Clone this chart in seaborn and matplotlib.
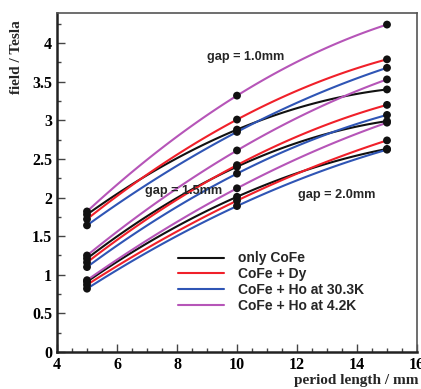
import numpy as np
import pandas as pd
import matplotlib
matplotlib.use("Agg")
import matplotlib.pyplot as plt
import seaborn as sns
from matplotlib.ticker import MultipleLocator, FormatStrFormatter

# period length (mm) and peak field (T)
period = [5, 10, 15]
gaps = ["1.0", "1.5", "2.0"]
materials = ["only CoFe", "CoFe + Dy", "CoFe + Ho at 30.3K", "CoFe + Ho at 4.2K"]

field = {
    ("1.0", "only CoFe"):          [1.78, 2.88, 3.40],
    ("1.0", "CoFe + Dy"):          [1.72, 3.01, 3.79],
    ("1.0", "CoFe + Ho at 30.3K"): [1.64, 2.85, 3.68],
    ("1.0", "CoFe + Ho at 4.2K"):  [1.82, 3.32, 4.24],
    ("1.5", "only CoFe"):          [1.21, 2.40, 2.99],
    ("1.5", "CoFe + Dy"):          [1.16, 2.42, 3.20],
    ("1.5", "CoFe + Ho at 30.3K"): [1.10, 2.31, 3.07],
    ("1.5", "CoFe + Ho at 4.2K"):  [1.25, 2.61, 3.53],
    ("2.0", "only CoFe"):          [0.91, 2.01, 2.63],
    ("2.0", "CoFe + Dy"):          [0.87, 1.96, 2.74],
    ("2.0", "CoFe + Ho at 30.3K"): [0.82, 1.89, 2.62],
    ("2.0", "CoFe + Ho at 4.2K"):  [0.93, 2.12, 2.97],
}

colors = {
    "only CoFe": "#111111",
    "CoFe + Dy": "#f0202a",
    "CoFe + Ho at 30.3K": "#2f55b5",
    "CoFe + Ho at 4.2K": "#b655b8",
}

rows = []
for (gap, mat), vals in field.items():
    for p, v in zip(period, vals):
        rows.append({"gap": gap, "material": mat, "period": p, "field": v})
df = pd.DataFrame(rows)

sns.set_style("ticks")
plt.rcParams["font.family"] = ["Liberation Serif", "DejaVu Serif"]

fig = plt.figure(figsize=(4.21, 3.89), dpi=100)
ax = fig.add_axes([57 / 421, 1 - 352 / 389, 360 / 421, 339 / 389])

for gap in gaps:
    for mat in materials:
        sub = df[(df.gap == gap) & (df.material == mat)]
        sns.regplot(data=sub, x="period", y="field", order=2, ci=None, scatter=False,
                    color=colors[mat], ax=ax, line_kws={"lw": 1.5},
                    label=mat if gap == "1.0" else "_nolegend_")

sns.scatterplot(data=df, x="period", y="field", color="#111111", s=32,
                edgecolor="none", ax=ax, zorder=5)

ax.set_xlim(4, 16)
ax.set_ylim(0, 4.39)
ax.xaxis.set_major_locator(MultipleLocator(2))
ax.xaxis.set_minor_locator(MultipleLocator(0.5))
ax.yaxis.set_major_locator(MultipleLocator(0.5))
ax.yaxis.set_minor_locator(MultipleLocator(0.25))
ax.yaxis.set_major_formatter(FormatStrFormatter("%g"))
ax.tick_params(which="both", direction="in", colors="#444444", width=1, labelcolor="black")
ax.tick_params(which="major", length=6, labelsize=11.5)
ax.tick_params(which="minor", length=3)
for lab in ax.get_xticklabels() + ax.get_yticklabels():
    lab.set_fontweight("bold")
for s in ax.spines.values():
    s.set_color("#555555")
    s.set_linewidth(1.2)
ax.spines["left"].set_color("#222222")
ax.spines["bottom"].set_color("#222222")
ax.spines["left"].set_linewidth(1.8)
ax.spines["bottom"].set_linewidth(1.8)

ax.set_xlabel("period length / mm", fontsize=11, fontweight="bold")
ax.xaxis.set_label_coords(1.005, -0.065)
ax.xaxis.label.set_ha("right")
ax.set_ylabel("field / Tesla", fontsize=11, fontweight="bold")
ax.yaxis.set_label_coords(-0.095, 0.87)

sans = ["Liberation Sans", "DejaVu Sans"]
ax.text(9.0, 3.82, "gap = 1.0mm", family=sans, fontweight="bold", fontsize=9.2, va="center")
ax.text(6.93, 2.08, "gap = 1.5mm", family=sans, fontweight="bold", fontsize=9.2, va="center")
ax.text(12.03, 2.03, "gap = 2.0mm", family=sans, fontweight="bold", fontsize=9.2, va="center")

leg = ax.legend(loc="upper left", bbox_to_anchor=(0.316, 0.317), frameon=False,
                handlelength=3.3, handletextpad=1.05, labelspacing=0.13, borderpad=0,
                prop={"family": sans, "weight": "bold", "size": 10})

fig.savefig("out.png", dpi=100)
